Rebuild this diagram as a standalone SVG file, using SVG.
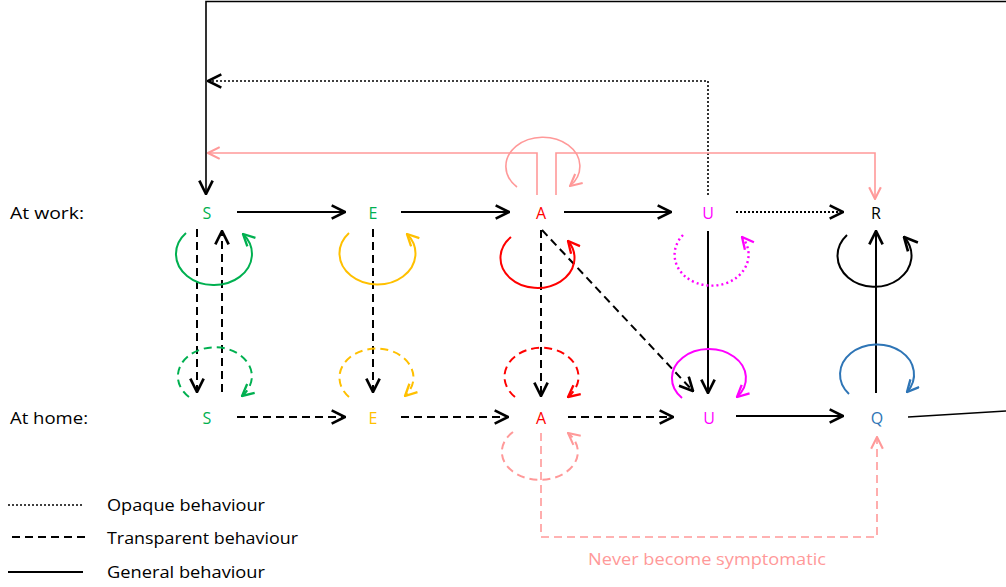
<svg xmlns="http://www.w3.org/2000/svg" width="1006" height="587" viewBox="0 0 1006 587">
<style>
text{font-family:"Open Sans","Liberation Sans",Arial,sans-serif;}
.lab{font-size:16px;fill:#000;}
.node{font-size:16px;text-anchor:middle;}
.leg{font-size:17px;fill:#000;}
.ln{fill:none;stroke:#000;stroke-width:2;}
.dash{stroke-dasharray:8,5;}
.dot{stroke-dasharray:2,2;stroke-width:1.6;}
.loop{fill:none;stroke-width:2;}
.pink{stroke:#ff9999;fill:none;stroke-width:1.6;}
</style>
<defs>
<marker id="ak" markerUnits="userSpaceOnUse" markerWidth="16" markerHeight="16" refX="11" refY="6" orient="auto" viewBox="0 0 12 12"><path d="M1,1 L11,6 L1,11" fill="none" stroke="#000" stroke-width="2"/></marker>
<marker id="ag" markerUnits="userSpaceOnUse" markerWidth="14" markerHeight="14" refX="11" refY="6" orient="auto" viewBox="0 0 12 12"><path d="M1,1 L11,6 L1,11" fill="none" stroke="#00b050" stroke-width="2"/></marker>
<marker id="ay" markerUnits="userSpaceOnUse" markerWidth="14" markerHeight="14" refX="11" refY="6" orient="auto" viewBox="0 0 12 12"><path d="M1,1 L11,6 L1,11" fill="none" stroke="#ffc000" stroke-width="2"/></marker>
<marker id="ar" markerUnits="userSpaceOnUse" markerWidth="14" markerHeight="14" refX="11" refY="6" orient="auto" viewBox="0 0 12 12"><path d="M1,1 L11,6 L1,11" fill="none" stroke="#ff0000" stroke-width="2"/></marker>
<marker id="am" markerUnits="userSpaceOnUse" markerWidth="14" markerHeight="14" refX="11" refY="6" orient="auto" viewBox="0 0 12 12"><path d="M1,1 L11,6 L1,11" fill="none" stroke="#ff00ff" stroke-width="2"/></marker>
<marker id="ab" markerUnits="userSpaceOnUse" markerWidth="14" markerHeight="14" refX="11" refY="6" orient="auto" viewBox="0 0 12 12"><path d="M1,1 L11,6 L1,11" fill="none" stroke="#2e75b6" stroke-width="2"/></marker>
<marker id="ap" markerUnits="userSpaceOnUse" markerWidth="14" markerHeight="14" refX="11" refY="6" orient="auto" viewBox="0 0 12 12"><path d="M1,1 L11,6 L1,11" fill="none" stroke="#ff9999" stroke-width="1.8"/></marker>
</defs>

<g id="row-labels">
<text class="lab" x="10" y="219" textLength="74" lengthAdjust="spacingAndGlyphs">At work:</text>
<text class="lab" x="10" y="424" textLength="78" lengthAdjust="spacingAndGlyphs">At home:</text>
</g>

<g id="node-S-work"><text class="node" x="207" y="219" fill="#00b050">S</text></g>
<g id="node-E-work"><text class="node" x="373" y="219" fill="#00b050">E</text></g>
<g id="node-A-work"><text class="node" x="541" y="219" fill="#ff0000">A</text></g>
<g id="node-U-work"><text class="node" x="708" y="219" fill="#ff00ff">U</text></g>
<g id="node-R-work"><text class="node" x="876" y="219" fill="#000">R</text></g>
<g id="node-S-home"><text class="node" x="207" y="424" fill="#00b050">S</text></g>
<g id="node-E-home"><text class="node" x="373" y="424" fill="#ffc000">E</text></g>
<g id="node-A-home"><text class="node" x="541" y="424" fill="#ff0000">A</text></g>
<g id="node-U-home"><text class="node" x="709" y="424" fill="#ff00ff">U</text></g>
<g id="node-Q-home"><text class="node" x="877" y="424" fill="#2e75b6">Q</text></g>

<g id="connectors">
<polyline class="ln" style="stroke-width:1.6" points="1006,1.5 206,1.5 206,194" marker-end="url(#ak)"/>
<polyline class="ln dot" points="708,195 708,81 208,81" marker-end="url(#ak)"/>
<polyline class="pink" points="537,195 537,153 208,153" marker-end="url(#ap)"/>
<polyline class="pink" points="556,195 556,153 875,153 875,199" marker-end="url(#ap)"/>
<path class="pink" d="M517,187 A37,29 0 1 1 570,186" marker-end="url(#ap)"/>

<line class="ln" x1="237" y1="212" x2="345" y2="212" marker-end="url(#ak)"/>
<line class="ln" x1="401" y1="212" x2="509" y2="212" marker-end="url(#ak)"/>
<line class="ln" x1="564" y1="212" x2="671" y2="212" marker-end="url(#ak)"/>
<line class="ln dot" style="stroke-width:2" x1="736" y1="212" x2="843" y2="212" marker-end="url(#ak)"/>

<line class="ln dash" x1="197" y1="229" x2="197" y2="392" marker-end="url(#ak)"/>
<line class="ln dash" x1="222" y1="392" x2="222" y2="231" marker-end="url(#ak)"/>
<line class="ln dash" x1="373" y1="229" x2="373" y2="392" marker-end="url(#ak)"/>
<line class="ln dash" x1="541" y1="230" x2="541" y2="396" marker-end="url(#ak)"/>
<line class="ln dash" x1="542" y1="230" x2="693" y2="391" marker-end="url(#ak)"/>
<line class="ln" x1="708" y1="231" x2="708" y2="393" marker-end="url(#ak)"/>
<line class="ln" x1="876" y1="393" x2="876" y2="231" marker-end="url(#ak)"/>

<line class="ln dash" x1="237" y1="417" x2="345" y2="417" marker-end="url(#ak)"/>
<line class="ln dash" x1="401" y1="417" x2="508" y2="417" marker-end="url(#ak)"/>
<line class="ln dash" x1="568" y1="417" x2="673" y2="417" marker-end="url(#ak)"/>
<line class="ln" x1="736" y1="416" x2="843" y2="416" marker-end="url(#ak)"/>
<line class="ln" style="stroke-width:1.6" x1="908" y1="417" x2="1006" y2="411"/>
<polyline class="pink" style="stroke-dasharray:8,5" points="541,433 541,537 877,537 877,437" marker-end="url(#ap)"/>

<path class="loop" stroke="#00b050" d="M186,233 A38,31 0 1 0 243,234" marker-end="url(#ag)"/>
<path class="loop" stroke="#ffc000" d="M349,233 A38,31 0 1 0 407,234" marker-end="url(#ay)"/>
<path class="loop" stroke="#ff0000" d="M511,237 A37,30 0 1 0 568,241" marker-end="url(#ar)"/>
<path class="loop" stroke="#ff00ff" style="stroke-dasharray:2,3;stroke-width:2.4" d="M683,235 A37,31 0 1 0 742,237" marker-end="url(#am)"/>
<path class="loop" stroke="#000" d="M847,235 A37,31 0 1 0 904,237" marker-end="url(#ak)"/>

<path class="loop dash" stroke="#00b050" d="M189,397 A37,29 0 1 1 242,396" marker-end="url(#ag)"/>
<path class="loop dash" stroke="#ffc000" d="M349,397 A37,29 0 1 1 405,396" marker-end="url(#ay)"/>
<path class="loop dash" stroke="#ff0000" d="M515,397 A37,29 0 1 1 568,397" marker-end="url(#ar)"/>
<path class="loop" stroke="#ff00ff" d="M682,398 A37,29 0 1 1 737,397" marker-end="url(#am)"/>
<path class="loop" stroke="#2e75b6" d="M849,394 A37,30 0 1 1 907,392" marker-end="url(#ab)"/>
<path class="pink" style="stroke-dasharray:8,5;stroke-width:2" d="M513,432 A38,28 0 1 0 568,433" marker-end="url(#ap)"/>
</g>

<g id="note">
<text x="707" y="565" font-size="17" fill="#ff9999" text-anchor="middle" textLength="238" lengthAdjust="spacingAndGlyphs">Never become symptomatic</text>
</g>

<g id="legend">
<line class="ln dot" x1="8" y1="505" x2="82" y2="505"/>
<text class="leg" x="107" y="511" textLength="158" lengthAdjust="spacingAndGlyphs">Opaque behaviour</text>
<line class="ln dash" x1="12" y1="537" x2="87" y2="537"/>
<text class="leg" x="107" y="544" textLength="191" lengthAdjust="spacingAndGlyphs">Transparent behaviour</text>
<line class="ln" x1="8" y1="572" x2="83" y2="572"/>
<text class="leg" x="107" y="578" textLength="158" lengthAdjust="spacingAndGlyphs">General behaviour</text>
</g>
</svg>
